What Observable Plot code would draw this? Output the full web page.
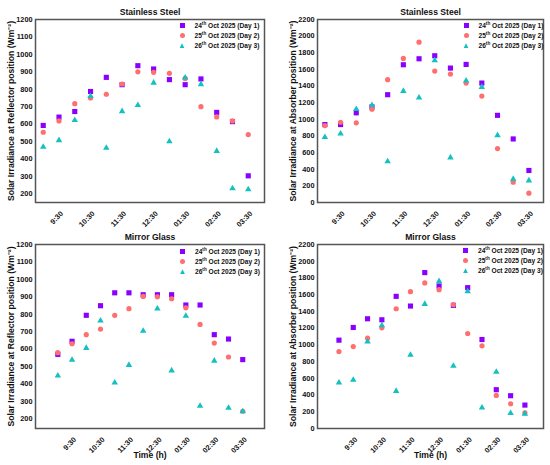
<!DOCTYPE html>
<html><head><meta charset="utf-8">
<script src="https://cdn.jsdelivr.net/npm/d3@7"></script>
<script src="https://cdn.jsdelivr.net/npm/@observablehq/plot@0.6"></script>
<style>
body{margin:0;background:#fff;font-family:"Liberation Sans",Arial,sans-serif;}
#wrap{position:relative;width:550px;height:465px;overflow:hidden;background:#fff;}
.panel{position:absolute;}
.legend{position:absolute;font-size:6.6px;font-weight:bold;line-height:10.3px;color:#111;white-space:nowrap;}
.legend .row{display:block;height:10.3px;}
.legend .sym{display:inline-block;width:5px;height:5px;margin-right:10px;vertical-align:middle;position:relative;top:-0.5px;}
.legend sup{font-size:70%;line-height:0;vertical-align:super;}
.sq{background:#8a00ff;}
.ci{background:#ff6f6f;border-radius:50%;}
.tr{background:#14c0c0;clip-path:polygon(50% 0,100% 100%,0 100%);}
</style></head><body><div id="wrap"></div><script>
const times = ["9:00","9:30","10:00","10:30","11:00","11:30","12:00","12:30","01:00","01:30","02:00","02:30","03:00","03:30"];
const tickLabels = ["9:30","10:30","11:30","12:30","01:30","02:30","03:30"];
const dayLabels = ["24th Oct 2025 (Day 1)","25th Oct 2025 (Day 2)","26th Oct 2025 (Day 3)"];
const colors = ["#8a00ff","#ff6f6f","#14c0c0"];
const symbols = ["square","circle","triangle"];

const ssReflectorDay1 = [592, 640, 672, 787, 868, 826, 935, 916, 855, 826, 859, 667, 614, 303];
const ssReflectorDay2 = [553, 618, 717, 750, 771, 830, 900, 897, 891, 862, 700, 641, 618, 540];
const ssReflectorDay3 = [469, 507, 622, 760, 463, 673, 708, 837, 500, 866, 828, 445, 231, 225];

const ssAbsorberDay1 = [937, 937, 1078, 1150, 1296, 1656, 1728, 1764, 1616, 1660, 1436, 1048, 764, 385];
const ssAbsorberDay2 = [925, 965, 958, 1121, 1476, 1732, 1928, 1580, 1544, 1436, 1280, 648, 244, 112];
const ssAbsorberDay3 = [785, 828, 1121, 1170, 493, 1340, 1260, 1708, 540, 1464, 1388, 808, 282, 264];

const mgReflectorDay1 = [570, 645, 794, 849, 923, 923, 912, 912, 912, 853, 853, 683, 658, 540];
const mgReflectorDay2 = [580, 631, 683, 715, 794, 832, 902, 900, 889, 837, 742, 635, 555, 244];
const mgReflectorDay3 = [448, 538, 606, 763, 408, 509, 704, 832, 477, 790, 274, 533, 263, 243];

const mgAbsorberDay1 = [1056, 1208, 1312, 1300, 1580, 1464, 1864, 1704, 1472, 1684, 1064, 464, 392, 280];
const mgAbsorberDay2 = [920, 980, 1080, 1204, 1432, 1636, 1740, 1660, 1480, 1136, 988, 396, 296, 188];
const mgAbsorberDay3 = [548, 580, 1040, 1232, 448, 880, 1488, 1760, 748, 1640, 248, 676, 184, 176];

const reflectorTicks = [200,300,400,500,600,700,800,900,1000,1100,1200];
const absorberTicks = [0,200,400,600,800,1000,1200,1400,1600,1800,2000,2200];

const titles = ["Stainless Steel","Mirror Glass"];
const yLabels = ["Solar Irradiance at Reflector position (Wm\u207B\u00B2)","Solar Irradiance at Absorber position (Wm\u207B\u00B2)"];
const xLabel = "Time (h)";

const tickIdx = tickLabels.map(t => times.indexOf(t));

function panel(cfg) {
  const series = [cfg.d1, cfg.d2, cfg.d3];
  const marks = [Plot.frame({stroke:"#555", strokeWidth:1.5})];
  series.forEach((s, k) => {
    marks.push(Plot.dot(s, {x:(d,i)=>i, y:d=>d, symbol:symbols[k], fill:colors[k], r:[2.9,2.6,2.4][k]}));
  });
  marks.push(Plot.axisY({ticks: cfg.yTicks, tickFormat: d => String(d), tickSize:0, tickPadding:3, fontSize:7.3, label:null}));
  marks.push(Plot.axisX({ticks: tickIdx, tickFormat: i => times[i], tickSize:0, tickRotate:-45, tickPadding:10, dx:3, fontSize:7.4, label:null}));
  marks.push(Plot.text([cfg.title], {text:d=>d, frameAnchor:"top", dy:-11, fontSize:8.6, fontWeight:"bold"}));
  marks.push(Plot.text([cfg.ylabel], {text:d=>d, frameAnchor:"left", textAnchor:"middle", rotate:-90, dx:-24, fontSize:8.6, fontWeight:"bold"}));
  if (cfg.xlabel) marks.push(Plot.text([cfg.xlabel], {text:d=>d, frameAnchor:"bottom", dy:29, fontSize:8.6, fontWeight:"bold"}));
  const svg = Plot.plot({
    width: cfg.width, height: cfg.height,
    marginLeft: cfg.ml, marginRight: cfg.mr, marginTop: cfg.mt, marginBottom: cfg.mb,
    x: {domain: cfg.xDomain, axis: null},
    y: {domain: cfg.yDomain, nice:false, axis: null},
    style: {fontFamily:"Liberation Sans, Arial, sans-serif", fontWeight:"bold", color:"#111", background:"#fff", overflow:"visible"},
    marks
  });
  const div = document.createElement("div");
  div.className = "panel";
  div.style.left = cfg.left + "px";
  div.style.top = cfg.top + "px";
  div.appendChild(svg);
  document.getElementById("wrap").appendChild(div);

  const lg = document.createElement("div");
  lg.className = "legend";
  lg.style.left = cfg.lgx + "px";
  lg.style.top = cfg.lgy + "px";
  const cls = ["sq","ci","tr"];
  dayLabels.forEach((lab, k) => {
    const m = lab.match(/^(\d+)(th)(.*)$/);
    const row = document.createElement("div");
    row.className = "row";
    row.innerHTML = `<span class="sym ${cls[k]}"></span>${m[1]}<sup>${m[2]}</sup>${m[3].replace(/^ /, "&nbsp;")}`;
    lg.appendChild(row);
  });
  document.getElementById("wrap").appendChild(lg);
}

panel({title:titles[0], ylabel:yLabels[0], d1:ssReflectorDay1, d2:ssReflectorDay2, d3:ssReflectorDay3,
  yTicks:reflectorTicks, yDomain:[150,1200], xDomain:[-0.49,14.03],
  width:275, height:230, ml:35, mr:11, mt:19, mb:28, left:0, top:0, lgx:179.5, lgy:20.5});
panel({title:titles[0], ylabel:yLabels[1], d1:ssAbsorberDay1, d2:ssAbsorberDay2, d3:ssAbsorberDay3,
  yTicks:absorberTicks, yDomain:[0,2200], xDomain:[-0.47,13.93],
  width:275, height:230, ml:42, mr:7, mt:19, mb:28, left:275, top:0, lgx:463.5, lgy:20.5});
panel({title:titles[1], ylabel:yLabels[0], xlabel:xLabel, d1:mgReflectorDay1, d2:mgReflectorDay2, d3:mgReflectorDay3,
  yTicks:reflectorTicks, yDomain:[145,1200], xDomain:[-1.57,14.53],
  width:275, height:235, ml:35, mr:11, mt:14, mb:37, left:0, top:230, lgx:180, lgy:246.5});
panel({title:titles[1], ylabel:yLabels[1], xlabel:xLabel, d1:mgAbsorberDay1, d2:mgAbsorberDay2, d3:mgAbsorberDay3,
  yTicks:absorberTicks, yDomain:[0,2200], xDomain:[-1.5,14.3],
  width:275, height:235, ml:42, mr:7, mt:14, mb:37, left:275, top:230, lgx:463, lgy:245.5});
</script></body></html>
